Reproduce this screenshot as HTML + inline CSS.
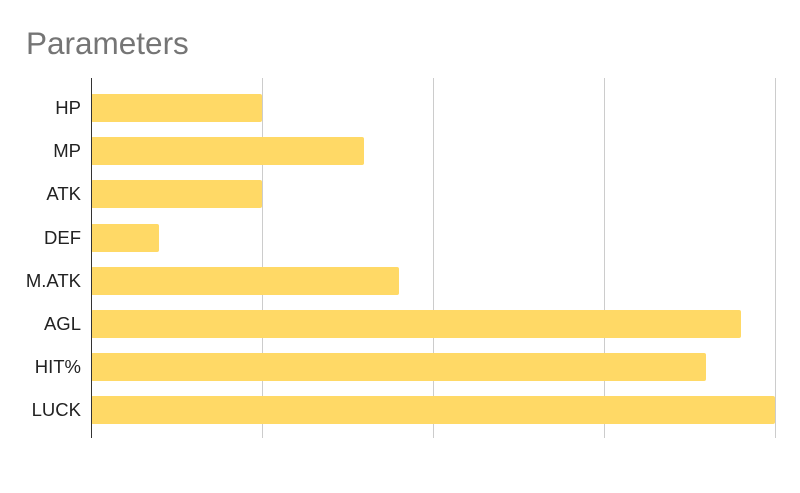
<!DOCTYPE html>
<html><head><meta charset="utf-8"><style>
html,body{margin:0;padding:0;background:#fff;}
svg{display:block;}
</style></head><body>
<svg width="800" height="493" xmlns="http://www.w3.org/2000/svg">
<rect width="800" height="493" fill="#fff"/>
<text x="26" y="54" font-family="Liberation Sans, sans-serif" font-size="31.5" fill="#757575">Parameters</text>
<g stroke="#cccccc" stroke-width="1">
<line x1="262.5" y1="78" x2="262.5" y2="438"/>
<line x1="433.5" y1="78" x2="433.5" y2="438"/>
<line x1="604.5" y1="78" x2="604.5" y2="438"/>
<line x1="775.5" y1="78" x2="775.5" y2="438"/>
</g>
<g fill="#ffd966">
<rect x="91" y="94" width="171" height="28" rx="2"/>
<rect x="91" y="137" width="273" height="28" rx="2"/>
<rect x="91" y="180" width="171" height="28" rx="2"/>
<rect x="91" y="224" width="68" height="28" rx="2"/>
<rect x="91" y="267" width="308" height="28" rx="2"/>
<rect x="91" y="310" width="650" height="28" rx="2"/>
<rect x="91" y="353" width="615" height="28" rx="2"/>
<rect x="91" y="396" width="684" height="28" rx="2"/>
</g>
<line x1="91.5" y1="78" x2="91.5" y2="438" stroke="#333" stroke-width="1"/>
<g font-family="Liberation Sans, sans-serif" font-size="18.5" fill="#222" text-anchor="end">
<text x="81" y="114">HP</text>
<text x="81" y="157">MP</text>
<text x="81" y="200">ATK</text>
<text x="81" y="244">DEF</text>
<text x="81" y="287">M.ATK</text>
<text x="81" y="330">AGL</text>
<text x="81" y="373">HIT%</text>
<text x="81" y="416">LUCK</text>
</g>
</svg>
</body></html>
